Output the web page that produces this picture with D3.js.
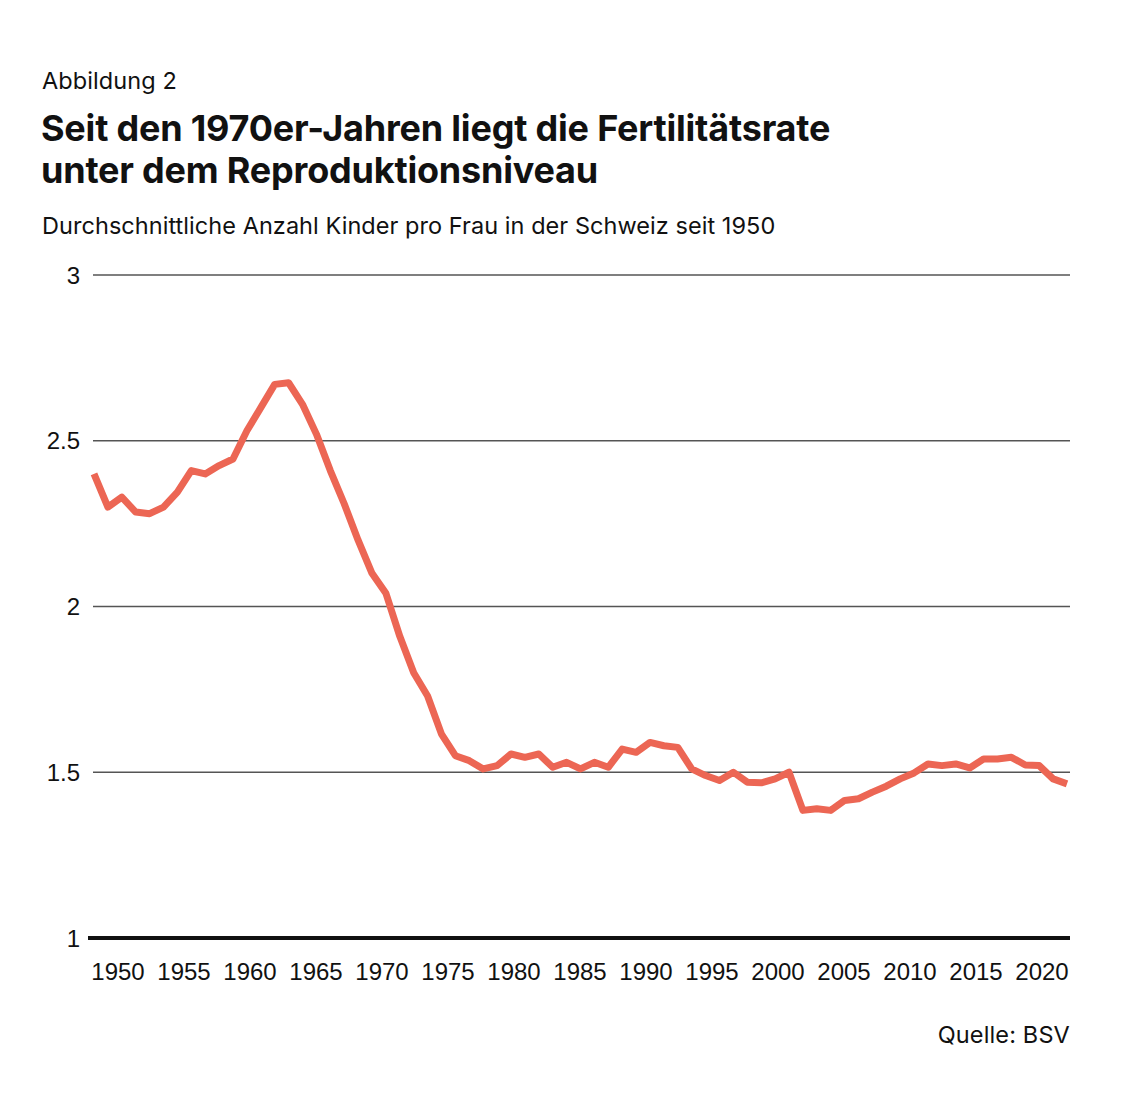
<!DOCTYPE html>
<html>
<head>
<meta charset="utf-8">
<script src="https://cdn.jsdelivr.net/npm/d3@7"></script>
<style>
  html, body { margin: 0; padding: 0; background: #fff; }
  svg { display: block; }
  .hdr { font-family: Inter, "Noto Sans", sans-serif; fill: #111; }
  .tick-lbl { font-family: "Liberation Sans", Arial, sans-serif; fill: #111; }
</style>
</head>
<body>
<script>
const years = d3.range(1950, 2021);
const fertility = [
  2.40, 2.30, 2.33, 2.285, 2.28, 2.30, 2.345, 2.41, 2.40, 2.425,
  2.445, 2.53, 2.60, 2.67, 2.675, 2.61, 2.52, 2.41, 2.31, 2.20,
  2.10, 2.04, 1.91, 1.80, 1.73, 1.615, 1.55, 1.535, 1.51, 1.52,
  1.555, 1.545, 1.555, 1.515, 1.53, 1.51, 1.53, 1.515, 1.57, 1.56,
  1.59, 1.58, 1.575, 1.51, 1.49, 1.475, 1.50, 1.47, 1.468, 1.48,
  1.50, 1.385, 1.39, 1.385, 1.415, 1.42, 1.44, 1.458, 1.48, 1.498,
  1.525, 1.52, 1.525, 1.513, 1.54, 1.54, 1.545, 1.522, 1.52, 1.48,
  1.465
];
const yTicks = [1, 1.5, 2, 2.5, 3];
const xTickLabels = ["1950","1955","1960","1965","1970","1975","1980","1985","1990","1995","2000","2005","2010","2015","2020"];

const data = years.map((y, i) => ({ year: y, value: fertility[i] }));

const W = 1138, H = 1100;
const svg = d3.select("body").append("svg").attr("width", W).attr("height", H);

// Header texts
svg.append("text").attr("class", "hdr").attr("x", 42).attr("y", 89)
  .attr("font-size", 23.5).attr("letter-spacing", 0.1).text("Abbildung 2");
svg.append("text").attr("class", "hdr").attr("x", 41).attr("y", 141)
  .attr("font-size", 36).attr("font-weight", 700).attr("letter-spacing", -0.2)
  .text("Seit den 1970er-Jahren liegt die Fertilitätsrate");
svg.append("text").attr("class", "hdr").attr("x", 41).attr("y", 183)
  .attr("font-size", 36).attr("font-weight", 700).attr("letter-spacing", -0.2)
  .text("unter dem Reproduktionsniveau");
svg.append("text").attr("class", "hdr").attr("x", 42).attr("y", 234)
  .attr("font-size", 23.5).attr("letter-spacing", 0.05)
  .text("Durchschnittliche Anzahl Kinder pro Frau in der Schweiz seit 1950");

// Scales
const plotL = 93, plotR = 1070;
const x = d3.scaleLinear().domain([1950, 2020]).range([94, 1067]);
const y = d3.scaleLinear().domain([1, 3]).range([938, 275]);
const xLbl = d3.scalePoint().domain(xTickLabels).range([118, 1042]);

// Gridlines
svg.append("g").selectAll("line").data(yTicks.filter(d => d !== 1)).join("line")
  .attr("x1", plotL).attr("x2", plotR)
  .attr("y1", d => y(d)).attr("y2", d => y(d))
  .attr("stroke", "#555").attr("stroke-width", 1.3);

// Y labels
svg.append("g").selectAll("text").data(yTicks).join("text")
  .attr("class", "tick-lbl")
  .attr("x", 80).attr("y", d => y(d)).attr("dy", "0.36em")
  .attr("text-anchor", "end").attr("font-size", 24)
  .text(d => d3.format("")(d));

// Line
const line = d3.line().x(d => x(d.year)).y(d => y(d.value));
svg.append("path").datum(data).attr("d", line)
  .attr("fill", "none").attr("stroke", "#ec6654").attr("stroke-width", 7)
  .attr("stroke-linejoin", "round").attr("stroke-linecap", "butt");

// Baseline
svg.append("line").attr("x1", 88).attr("x2", plotR)
  .attr("y1", y(1)).attr("y2", y(1))
  .attr("stroke", "#111").attr("stroke-width", 4);

// X labels
svg.append("g").selectAll("text").data(xTickLabels).join("text")
  .attr("class", "tick-lbl")
  .attr("x", d => xLbl(d)).attr("y", 980)
  .attr("text-anchor", "middle").attr("font-size", 24)
  .text(d => d);

// Source
svg.append("text").attr("class", "hdr").attr("x", 1070).attr("y", 1043)
  .attr("text-anchor", "end").attr("font-size", 23.5).attr("letter-spacing", 0.15)
  .text("Quelle: BSV");
</script>
</body>
</html>
